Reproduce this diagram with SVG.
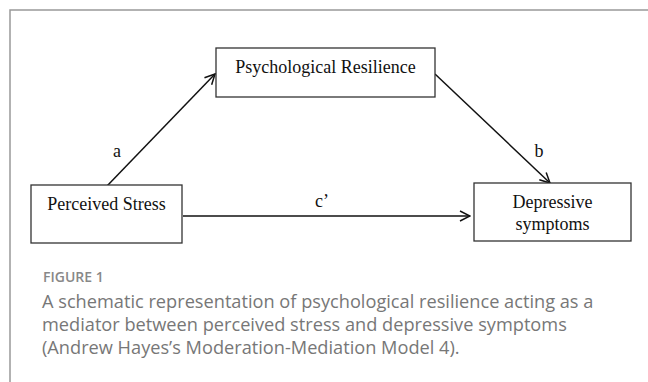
<svg xmlns="http://www.w3.org/2000/svg" width="648" height="382" viewBox="0 0 648 382">
<style>
.box{fill:#fff;stroke:#333;stroke-width:1.3}
.lbl{font-family:"Liberation Serif","Times New Roman",serif;font-size:18px;fill:#111;text-anchor:middle}
.edge{fill:none;stroke:#111;stroke-width:1.5}
.cap{font-family:"Open Sans","Noto Sans",sans-serif;font-size:18.2px;fill:#777}
.fig{font-family:"Open Sans","Noto Sans",sans-serif;font-size:14px;font-weight:600;fill:#888}
</style>
<defs>
<marker id="arr" viewBox="0 0 12 12" refX="11" refY="6" markerWidth="12" markerHeight="12" markerUnits="userSpaceOnUse" orient="auto">
<path d="M1,1 L11,6 L1,11" fill="none" stroke="#111" stroke-width="1.5"/>
</marker>
</defs>
<rect x="0" y="0" width="648" height="382" fill="#fff"/>
<path d="M10,382 V10 H648" fill="none" stroke="#999" stroke-width="1.5"/>
<g id="connectors">
<line class="edge" x1="107" y1="186" x2="215" y2="74" marker-end="url(#arr)"/>
<line class="edge" x1="435" y1="74" x2="550" y2="183" marker-end="url(#arr)"/>
<line class="edge" x1="183" y1="216" x2="470" y2="216" marker-end="url(#arr)"/>
<text class="lbl" x="117" y="157">a</text>
<text class="lbl" x="539" y="157">b</text>
<text class="lbl" x="322" y="207">c’</text>
</g>
<g id="node-resilience">
<rect class="box" x="216" y="48" width="219" height="49"/>
<text class="lbl" x="325.5" y="73">Psychological Resilience</text>
</g>
<g id="node-stress">
<rect class="box" x="31" y="185" width="151" height="58"/>
<text class="lbl" x="106.5" y="210">Perceived Stress</text>
</g>
<g id="node-depressive">
<rect class="box" x="474" y="183" width="157" height="58"/>
<text class="lbl" x="552.5" y="208">Depressive</text>
<text class="lbl" x="552.5" y="230">symptoms</text>
</g>
<text class="fig" x="43" y="282">FIGURE 1</text>
<text class="cap" x="42" y="308">A schematic representation of psychological resilience acting as a</text>
<text class="cap" x="42" y="331">mediator between perceived stress and depressive symptoms</text>
<text class="cap" x="42" y="354">(Andrew Hayes’s Moderation-Mediation Model 4).</text>
</svg>
